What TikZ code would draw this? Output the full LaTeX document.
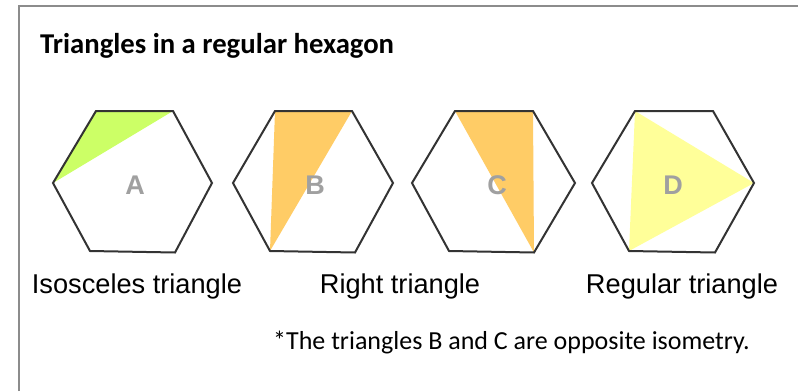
\documentclass[tikz,border=0pt]{standalone}
\usepackage{fontspec}
\setmainfont{Carlito}
\newfontfamily\arialfont{Liberation Sans}
\definecolor{hexline}{HTML}{333333}
\definecolor{framegray}{HTML}{8C8C8C}
\definecolor{limefill}{HTML}{CCFF66}
\definecolor{orangefill}{HTML}{FFCC66}
\definecolor{yellowfill}{HTML}{FFFF99}
\definecolor{lettergray}{HTML}{A0A0A0}
\begin{document}
\begin{tikzpicture}[x=1pt,y=-1pt,
  hexagon/.style={draw=hexline,line width=2pt,line join=miter},
  letter/.style={anchor=base,inner sep=0pt,text=lettergray,font=\arialfont\bfseries\fontsize{27}{30}\selectfont},
  caption/.style={anchor=base,inner sep=0pt,font=\arialfont\fontsize{27.2}{30}\selectfont},
  frameline/.style={draw=framegray,line width=2pt}]
\useasboundingbox (0,0) rectangle (798,391);
\fill[white] (0,0) rectangle (798,391);
% frame
\coordinate (fbl) at (18.5,391);
\coordinate (ftl) at (18.5,6);
\coordinate (ftr) at (798,6);
\draw[frameline] (fbl) -- (ftl) -- (ftr);
% title
\node[anchor=base west,inner sep=0pt,font=\bfseries\fontsize{28.7}{32}\selectfont] (title) at (40,53) {Triangles in a regular hexagon};
% hexagon A
\coordinate (a1) at (96,111); \coordinate (a2) at (173,111); \coordinate (a3) at (212,183);
\coordinate (a4) at (175,252.5); \coordinate (a5) at (90,251); \coordinate (a6) at (53,183);
\fill[limefill] (a1) -- (a2) -- (a6) -- cycle;
\draw[hexagon] (a1) -- (a2) -- (a3) -- (a4) -- (a5) -- (a6) -- cycle;
% hexagon B
\coordinate (b1) at (275,111); \coordinate (b2) at (352,111); \coordinate (b3) at (393,183);
\coordinate (b4) at (355,252.5); \coordinate (b5) at (270,251); \coordinate (b6) at (233,183);
\fill[orangefill] (b1) -- (b2) -- (b5) -- cycle;
\draw[hexagon] (b1) -- (b2) -- (b3) -- (b4) -- (b5) -- (b6) -- cycle;
% hexagon C
\coordinate (c1) at (455,111); \coordinate (c2) at (533,111); \coordinate (c3) at (575,183);
\coordinate (c4) at (534,252.5); \coordinate (c5) at (449,251); \coordinate (c6) at (412,183);
\fill[orangefill] (c1) -- (c2) -- (c4) -- cycle;
\draw[hexagon] (c1) -- (c2) -- (c3) -- (c4) -- (c5) -- (c6) -- cycle;
% hexagon D
\coordinate (d1) at (635,111); \coordinate (d2) at (713,111); \coordinate (d3) at (754,183);
\coordinate (d4) at (715,252.5); \coordinate (d5) at (629,251); \coordinate (d6) at (592,183);
\fill[yellowfill] (d1) -- (d3) -- (d5) -- cycle;
\draw[hexagon] (d1) -- (d2) -- (d3) -- (d4) -- (d5) -- (d6) -- cycle;
% letters
\node[letter] (la) at (135,194) {A};
\node[letter] (lb) at (315,194) {B};
\node[letter] (lc) at (497,194) {C};
\node[letter] (ld) at (673,194) {D};
% captions
\node[caption] (capa) at (137,293) {Isosceles triangle};
\node[caption] (capb) at (400,293) {Right triangle};
\node[caption] (capd) at (682,293) {Regular triangle};
% footnote
\node[anchor=base west,inner sep=0pt,font=\fontsize{26}{30}\selectfont] (note) at (273,349) {*The triangles B and C are opposite isometry.};
\end{tikzpicture}
\end{document}
